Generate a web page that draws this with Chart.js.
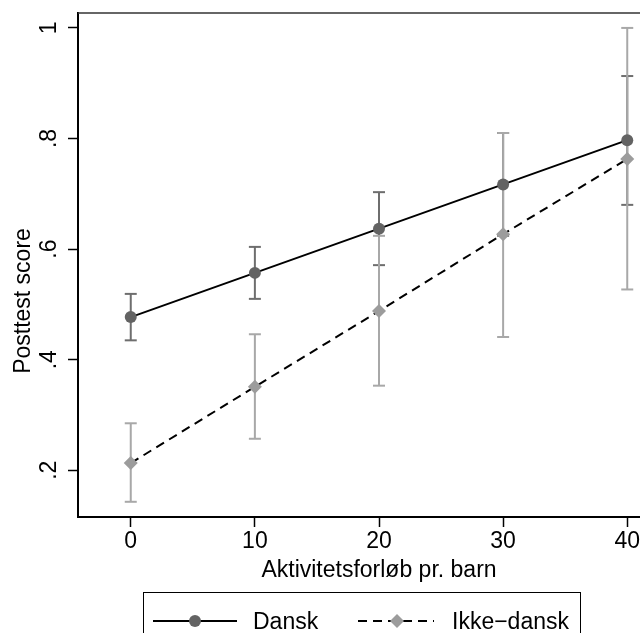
<!DOCTYPE html>
<html>
<head>
<meta charset="utf-8">
<title>Posttest score</title>
<script src="https://cdn.jsdelivr.net/npm/chart.js@4.4.1/dist/chart.umd.min.js"></script>
<style>
  html, body { margin: 0; padding: 0; background: #fff; overflow: hidden; }
  #wrap { width: 640px; height: 633px; overflow: hidden; }
  canvas { display: block; }
</style>
</head>
<body>
<div id="wrap"><canvas id="chart" width="700" height="633"></canvas></div>
<script>
// margins at each number of activities per child
const xVals = [0, 10, 20, 30, 40];

const danskMean = [0.477, 0.557, 0.637, 0.717, 0.797];
const danskLo   = [0.435, 0.510, 0.571, 0.624, 0.680];
const danskHi   = [0.519, 0.604, 0.703, 0.810, 0.913];

const ikkeMean = [0.213, 0.351, 0.488, 0.627, 0.763];
const ikkeLo   = [0.143, 0.257, 0.353, 0.441, 0.527];
const ikkeHi   = [0.285, 0.446, 0.624, 0.810, 1.000];

const xTicks = [0, 10, 20, 30, 40];
const xTickLabels = ['0', '10', '20', '30', '40'];
const yTicks = [0.2, 0.4, 0.6, 0.8, 1.0];
const yTickLabels = ['.2', '.4', '.6', '.8', '1'];

const seriesNames = ['Dansk', 'Ikke\u2212dansk'];
const xTitle = 'Aktivitetsforløb pr. barn';
const yTitle = 'Posttest score';

const FONT = '23px "Liberation Sans", Arial, sans-serif';
const DARK = '#636363';
const DARK_CI = '#6e6e6e';
const LIGHT = '#9c9c9c';
const LIGHT_CI = '#a8a8a8';

function points( ys ) {
	return xVals.map( ( x, i ) => ( { x: x, y: ys[ i ] } ) );
}

// rcap: one segment per x, broken by null points
function capSegments( lo, hi ) {
	const out = [];
	xVals.forEach( ( x, i ) => {
		out.push( { x: x, y: lo[ i ] }, { x: x, y: hi[ i ] }, { x: x, y: null } );
	} );
	return out;
}

function ciDataset( lo, hi, color, order ) {
	return {
		data: capSegments( lo, hi ),
		order: order,
		borderColor: color,
		borderWidth: 2,
		spanGaps: false,
		pointStyle: 'line',
		pointRadius: 6,
		pointBorderWidth: 2,
		pointBorderColor: color,
		pointHoverRadius: 6
	};
}

const textPlugin = {
	id: 'stataText',
	beforeDatasetsDraw( chart ) {
		const { ctx, chartArea } = chart;
		ctx.save();
		ctx.strokeStyle = '#333';
		ctx.lineWidth = 1.5;
		ctx.beginPath();
		ctx.moveTo( chartArea.left, chartArea.top );
		ctx.lineTo( chartArea.right, chartArea.top );
		ctx.stroke();
		ctx.restore();
	},
	afterDraw( chart ) {
		const { ctx } = chart;
		const xs = chart.scales.x;
		const ys = chart.scales.y;
		ctx.save();
		ctx.fillStyle = '#000';
		ctx.font = FONT;
		ctx.textBaseline = 'alphabetic';
		ctx.textAlign = 'center';

		// y tick labels, vertical
		yTicks.forEach( ( v, i ) => {
			ctx.save();
			ctx.translate( 56, ys.getPixelForValue( v ) );
			ctx.rotate( -Math.PI / 2 );
			ctx.fillText( yTickLabels[ i ], 0, 0 );
			ctx.restore();
		} );

		ctx.save();
		ctx.translate( 29.5, 301 );
		ctx.rotate( -Math.PI / 2 );
		ctx.fillText( yTitle, 0, 0 );
		ctx.restore();

		xTicks.forEach( ( v, i ) => {
			ctx.fillText( xTickLabels[ i ], xs.getPixelForValue( v ), 548 );
		} );
		ctx.fillText( xTitle, 379, 577 );

		// legend
		ctx.strokeStyle = '#000';
		ctx.lineWidth = 1;
		ctx.strokeRect( 143.5, 592.5, 437, 60 );

		const ly = 621;
		ctx.lineWidth = 2;
		ctx.beginPath();
		ctx.moveTo( 153, ly );
		ctx.lineTo( 237, ly );
		ctx.stroke();
		ctx.fillStyle = DARK;
		ctx.beginPath();
		ctx.arc( 195, ly, 6, 0, Math.PI * 2 );
		ctx.fill();

		ctx.setLineDash( [ 9, 6 ] );
		ctx.beginPath();
		ctx.moveTo( 358, ly );
		ctx.lineTo( 434, ly );
		ctx.stroke();
		ctx.setLineDash( [] );
		ctx.fillStyle = LIGHT;
		ctx.beginPath();
		ctx.moveTo( 397, ly - 7 );
		ctx.lineTo( 404, ly );
		ctx.lineTo( 397, ly + 7 );
		ctx.lineTo( 390, ly );
		ctx.closePath();
		ctx.fill();

		ctx.fillStyle = '#000';
		ctx.textAlign = 'left';
		ctx.fillText( seriesNames[ 0 ], 253, 629 );
		ctx.fillText( seriesNames[ 1 ], 452, 629 );
		ctx.restore();
	}
};

new Chart( document.getElementById( 'chart' ), {
	type: 'line',
	data: {
		datasets: [
			{
				label: seriesNames[ 0 ],
				data: points( danskMean ),
				order: 0,
				borderColor: '#000',
				borderWidth: 2,
				pointStyle: 'circle',
				pointRadius: 6,
				pointBorderWidth: 0,
				pointBackgroundColor: DARK,
				pointBorderColor: DARK
			},
			{
				label: seriesNames[ 1 ],
				data: points( ikkeMean ),
				order: 1,
				borderColor: '#000',
				borderWidth: 2,
				borderDash: [ 9, 6 ],
				pointStyle: 'rectRot',
				pointRadius: 7,
				pointBorderWidth: 0,
				pointBackgroundColor: LIGHT,
				pointBorderColor: LIGHT
			},
			ciDataset( ikkeLo, ikkeHi, LIGHT_CI, 2 ),
			ciDataset( danskLo, danskHi, DARK_CI, 3 )
		]
	},
	options: {
		responsive: false,
		animation: false,
		events: [],
		layout: { padding: { top: 13, right: 20, left: 0, bottom: 0 } },
		plugins: { legend: { display: false }, tooltip: { enabled: false } },
		scales: {
			x: {
				type: 'linear',
				min: -4.25,
				max: 44.25,
				afterBuildTicks: s => { s.ticks = xTicks.map( v => ( { value: v } ) ); },
				afterFit: s => { s.height = 116; },
				ticks: { display: false },
				border: { display: true, color: '#000', width: 2 },
				grid: { drawOnChartArea: false, drawTicks: true, tickLength: 10, tickColor: '#000', tickWidth: 1.5 }
			},
			y: {
				type: 'linear',
				min: 0.1155,
				max: 1.027,
				afterBuildTicks: s => { s.ticks = yTicks.map( v => ( { value: v } ) ); },
				afterFit: s => { s.width = 78; },
				ticks: { display: false },
				border: { display: true, color: '#000', width: 2 },
				grid: { drawOnChartArea: false, drawTicks: true, tickLength: 10, tickColor: '#000', tickWidth: 1.5 }
			}
		}
	},
	plugins: [ textPlugin ]
} );
</script>
</body>
</html>
